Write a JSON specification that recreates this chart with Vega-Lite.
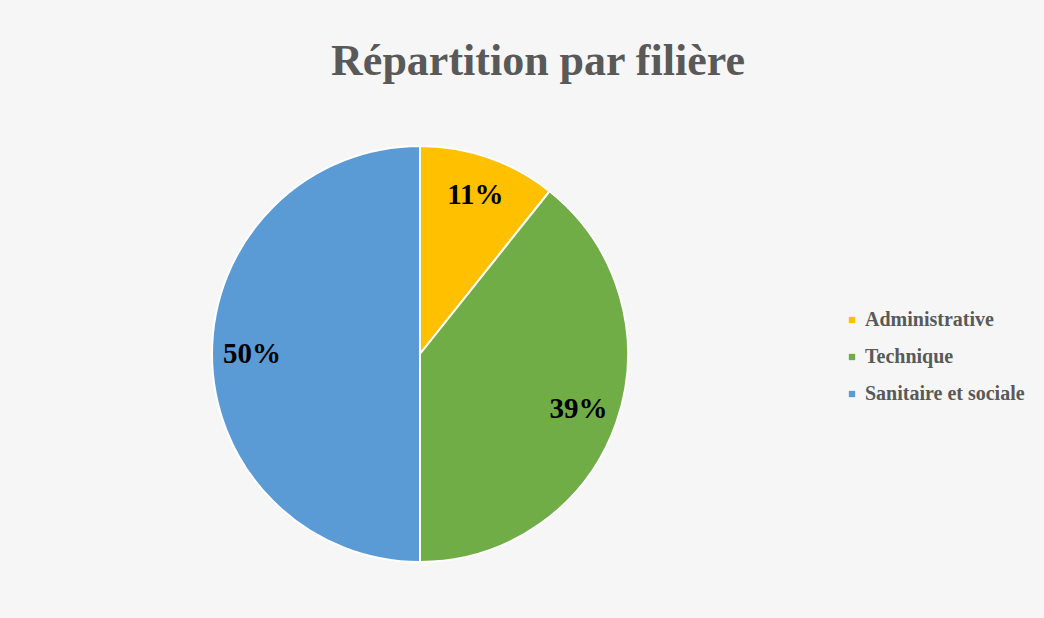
{
  "$schema": "https://vega.github.io/schema/vega-lite/v6.json",
  "width": 416,
  "height": 416,
  "autosize": {"type": "none"},
  "padding": {"left": 212, "top": 146, "right": 416, "bottom": 56},
  "background": "#f6f6f6",
  "title": {
    "text": "Répartition par filière",
    "font": "Liberation Serif",
    "fontSize": 44,
    "fontWeight": "bold",
    "color": "#595959",
    "anchor": "middle",
    "dx": 118,
    "offset": 23,
    "baseline": "alphabetic"
  },
  "config": {"view": {"stroke": null}},
  "data": {
    "values": [
      {"filiere": "Administrative", "part": 10.7, "ordre": 1},
      {"filiere": "Technique", "part": 39.3, "ordre": 2},
      {"filiere": "Sanitaire et sociale", "part": 50.0, "ordre": 3}
    ]
  },
  "transform": [
    {"calculate": "format(datum.part / 100, '.0%')", "as": "etiquette"}
  ],
  "encoding": {
    "theta": {"field": "part", "type": "quantitative", "stack": true},
    "order": {"field": "ordre", "type": "quantitative"}
  },
  "layer": [
    {
      "mark": {"type": "arc", "outerRadius": 208, "stroke": "#ffffff", "strokeWidth": 2},
      "encoding": {
        "color": {
          "field": "filiere",
          "type": "nominal",
          "sort": ["Administrative", "Technique", "Sanitaire et sociale"],
          "scale": {
            "domain": ["Administrative", "Technique", "Sanitaire et sociale"],
            "range": ["#FFC000", "#70AD47", "#5B9BD5"]
          },
          "legend": {
            "title": null,
            "orient": "none",
            "legendX": 630,
            "legendY": 164,
            "symbolType": "square",
            "symbolSize": 40,
            "symbolStrokeWidth": 0,
            "labelFont": "Liberation Serif",
            "labelFontSize": 20,
            "labelFontWeight": "bold",
            "labelColor": "#595959",
            "rowPadding": 17,
            "labelOffset": 3
          }
        }
      }
    },
    {
      "mark": {
        "type": "text",
        "radius": 168,
        "font": "Liberation Serif",
        "fontSize": 29,
        "fontWeight": "bold",
        "color": "#000000"
      },
      "encoding": {"text": {"field": "etiquette", "type": "nominal"}}
    }
  ]
}
